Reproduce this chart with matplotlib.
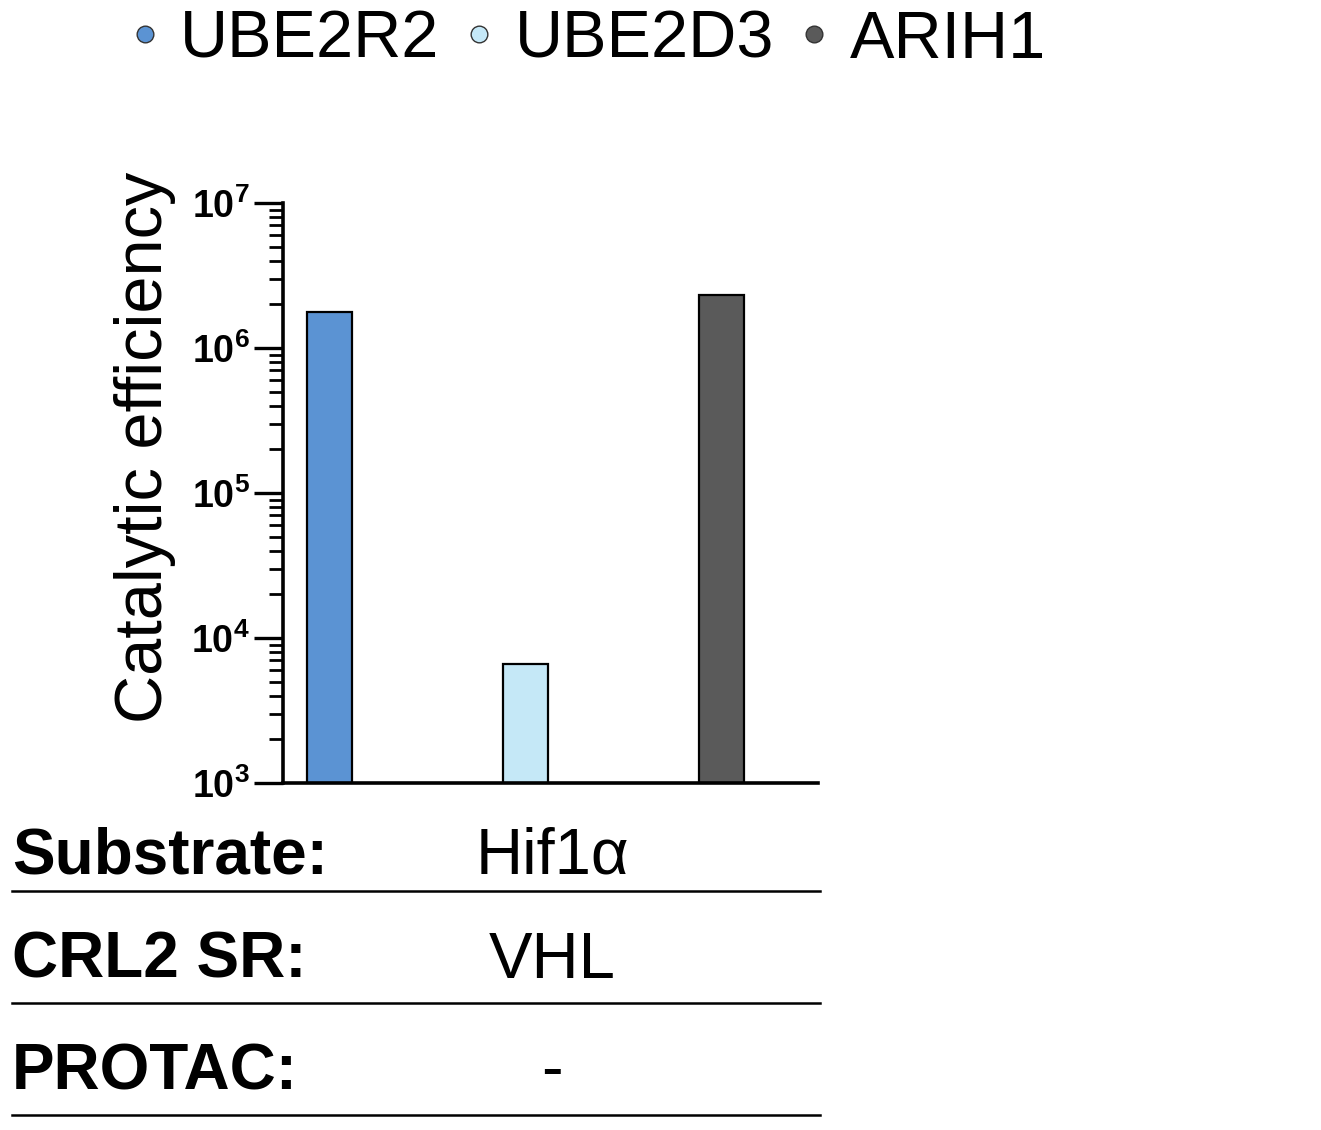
import matplotlib.pyplot as plt
from matplotlib.lines import Line2D
from matplotlib.ticker import LogLocator, NullFormatter

plt.rcParams['font.family'] = ['Liberation Sans', 'DejaVu Sans']
plt.rcParams['mathtext.fontset'] = 'custom'
plt.rcParams['mathtext.rm'] = 'Liberation Sans'
plt.rcParams['mathtext.bf'] = 'Liberation Sans:bold'

# data
enzymes = ['UBE2R2', 'UBE2D3', 'ARIH1']
efficiency = [1.77e6, 6.6e3, 2.32e6]
colors = ['#5b93d3', '#c5e8f7', '#5a5a5a']

row_names = ['Substrate:', 'CRL2 SR:', 'PROTAC:']
row_values = ['Hif1α', 'VHL', '-']

fig = plt.figure(figsize=(13.21, 11.30), dpi=100)
ax = fig.add_axes([0.2142, 0.3071, 0.4050, 0.5133])

x = list(range(len(enzymes)))
ax.bar(x, efficiency, width=0.23, color=colors, edgecolor='black', linewidth=1.6)
ax.set_yscale('log')
ax.set_ylim(1e3, 1e7)
ax.set_xlim(-0.237, 2.49)
ax.set_xticks([])

ax.yaxis.set_major_locator(LogLocator(base=10, numticks=10))
ax.yaxis.set_minor_locator(LogLocator(base=10, subs=range(2, 10), numticks=100))
ax.yaxis.set_minor_formatter(NullFormatter())
ax.tick_params(axis='y', which='major', length=21, width=2.4, labelsize=27, pad=3)
ax.tick_params(axis='y', which='minor', length=10, width=2.0)
for lbl in ax.get_yticklabels():
    lbl.set_fontweight('bold')

for s in ['top', 'right']:
    ax.spines[s].set_visible(False)
for s in ['left', 'bottom']:
    ax.spines[s].set_linewidth(2.6)

ax.set_ylabel('Catalytic efficiency', fontsize=48)
ax.yaxis.set_label_coords(-0.2, 0.578)

handles = [Line2D([], [], marker='o', linestyle='none', markersize=12,
                  markerfacecolor=c, markeredgecolor='#333333', markeredgewidth=1)
           for c in colors]
fig.legend(handles, enzymes, loc='center', bbox_to_anchor=(0.4455, 0.964), ncol=3,
           frameon=False, fontsize=48, handletextpad=0.33, columnspacing=0.4,
           handlelength=0.4, borderpad=0.1)

# table under the chart
row_y = [857, 961, 1072]
line_y = [891, 1003, 1115]
for name, val, ty, ly in zip(row_names, row_values, row_y, line_y):
    fig.text(12 / 1321, 1 - ty / 1130, name, fontsize=46, fontweight='bold', va='center', ha='left')
    fig.text(552 / 1321, 1 - ty / 1130, val, fontsize=47, va='center', ha='center')
    fig.add_artist(Line2D([12 / 1321, 820 / 1321], [1 - ly / 1130, 1 - ly / 1130],
                          color='black', linewidth=1.8, transform=fig.transFigure))

fig.savefig('out.png', dpi=100)
